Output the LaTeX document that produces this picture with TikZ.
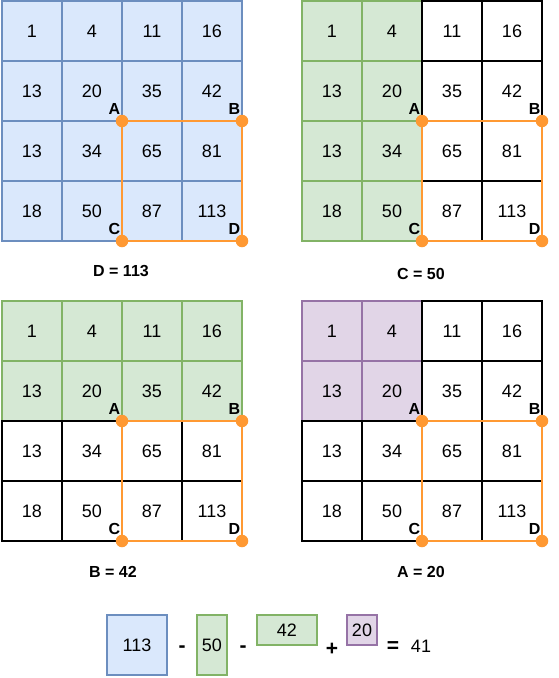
\documentclass[tikz,border=0pt]{standalone}
\usepackage{fontspec}
\setmainfont{Liberation Sans}

\definecolor{sumBlue}{HTML}{DAE8FC}
\definecolor{sumBlueLine}{HTML}{6C8EBF}
\definecolor{sumGreen}{HTML}{D5E8D4}
\definecolor{sumGreenLine}{HTML}{82B366}
\definecolor{sumPurple}{HTML}{E1D5E7}
\definecolor{sumPurpleLine}{HTML}{9673A6}
\definecolor{roiOrange}{HTML}{FF9933}

\tikzset{
  cell/.style={draw, line width=1.1pt, minimum size=60pt, inner sep=0pt, outer sep=0pt,
    anchor=north west, font=\fontsize{18}{18}\selectfont},
  plaincell/.style={cell, fill=white, draw=black},
  bluecell/.style={cell, fill=sumBlue, draw=sumBlueLine},
  greencell/.style={cell, fill=sumGreen, draw=sumGreenLine},
  purplecell/.style={cell, fill=sumPurple, draw=sumPurpleLine},
  corner/.style={circle, fill=roiOrange, inner sep=0pt, minimum size=12.5pt},
  cornerlabel/.style={anchor=south east, inner sep=0pt, xshift=-1.5pt, yshift=6pt,
    font=\bfseries\fontsize{16}{16}\selectfont},
  caption/.style={font=\bfseries\fontsize{16}{16}\selectfont},
  term/.style={draw, line width=1.1pt, inner sep=0pt, outer sep=0pt, anchor=north west,
    font=\fontsize{18}{18}\selectfont},
  op/.style={inner sep=0pt, font=\bfseries\fontsize{21}{21}\selectfont},
}

% #1 name, #2/#3 top left corner, #4 rule for the cell colour
\newcommand{\numgrid}[4]{%
  \foreach \r/\vals in {1/{1,4,11,16},2/{13,20,35,42},3/{13,34,65,81},4/{18,50,87,113}}{
    \foreach \v [count=\c] in \vals {
      \tikzset{cur/.style=plaincell}
      #4
      \node[cur] (#1-\r-\c) at ({#2+60*(\c-1)},{#3+60*(\r-1)}) {\v};
    }
  }
}

% orange window with its corners A, B, C, D
\newcommand{\roibox}[2]{%
  \draw[roiOrange, line width=#2] (#1-2-2.south east) rectangle (#1-4-4.south east);
  \foreach \p/\rr/\cc in {A/2/2,B/2/4,C/4/2,D/4/4}{
    \node[corner] (#1-dot\p) at (#1-\rr-\cc.south east) {};
    \node[cornerlabel] (#1-lbl\p) at (#1-\rr-\cc.south east) {\p};
  }
}

\begin{document}
\begin{tikzpicture}[x=1pt,y=-1pt]
  \useasboundingbox (0,0) rectangle (558,678);

  % the four tables
  \numgrid{gd}{2}{1}{\tikzset{cur/.style=bluecell}}
  \roibox{gd}{2.7pt}
  \numgrid{gc}{302}{1}{\ifnum\c<3 \tikzset{cur/.style=greencell}\fi}
  \roibox{gc}{1.6pt}
  \numgrid{gb}{2}{301}{\ifnum\r<3 \tikzset{cur/.style=greencell}\fi}
  \roibox{gb}{2.7pt}
  \numgrid{ga}{302}{301}{\ifnum\c<3 \ifnum\r<3 \tikzset{cur/.style=purplecell}\fi\fi}
  \roibox{ga}{2.7pt}

  \node[caption] (capD) at (121,271) {D = 113};
  \node[caption] (capC) at (421,274) {C = 50};
  \node[caption] (capB) at (113,572) {B = 42};
  \node[caption] (capA) at (421,572) {A = 20};

  % the sum
  \node[term, fill=sumBlue, draw=sumBlueLine, minimum width=60pt, minimum height=60pt]
    (sumD) at (107,615) {113};
  \node[op] (opC) at (182,649) {-};
  \node[term, fill=sumGreen, draw=sumGreenLine, minimum width=30pt, minimum height=60pt]
    (sumC) at (197,615) {50};
  \node[op] (opB) at (243,649) {-};
  \node[term, fill=sumGreen, draw=sumGreenLine, minimum width=60pt, minimum height=30pt]
    (sumB) at (257,615) {42};
  \node[op] (opA) at (332,649) {+};
  \node[term, fill=sumPurple, draw=sumPurpleLine, minimum width=30pt, minimum height=30pt]
    (sumA) at (347,615) {20};
  \node[op] (opEq) at (393,647) {=};
  \node[font=\fontsize{18}{18}\selectfont] (res) at (421,646) {41};
\end{tikzpicture}
\end{document}
